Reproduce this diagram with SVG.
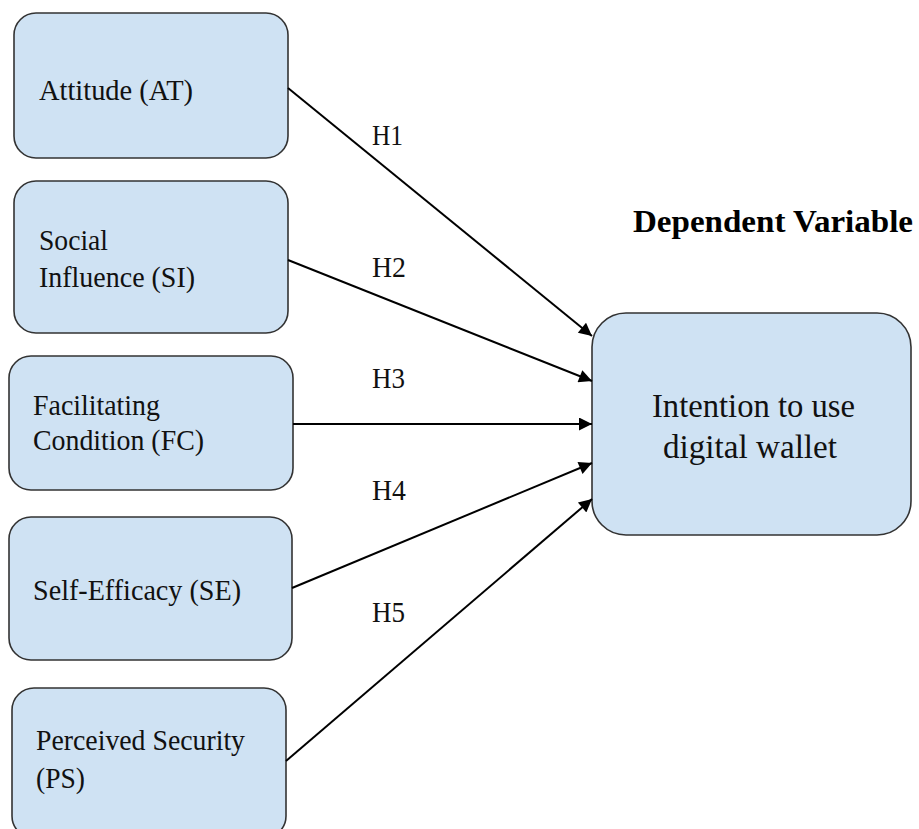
<svg xmlns="http://www.w3.org/2000/svg" width="919" height="829" viewBox="0 0 919 829">
  <style>
    .box { fill: #cfe2f3; stroke: #333333; stroke-width: 1.6; }
    .lbl { font-family: "Liberation Serif", "Times New Roman", serif; font-size: 30px; fill: #111111; }
    .big { font-family: "Liberation Serif", "Times New Roman", serif; font-size: 34px; fill: #111111; }
    .head { font-family: "Liberation Serif", "Times New Roman", serif; font-size: 31px; font-weight: bold; fill: #000000; }
    .hyp { font-family: "Liberation Serif", "Times New Roman", serif; font-size: 30px; fill: #111111; }
    .edge { stroke: #000000; stroke-width: 2; fill: none; marker-end: url(#arrow); }
  </style>
  <defs>
    <marker id="arrow" viewBox="0 0 10 10" refX="10" refY="5" markerWidth="8" markerHeight="6.5" markerUnits="strokeWidth" orient="auto">
      <path d="M0,0 L10,5 L0,10 z" fill="#000000"/>
    </marker>
  </defs>

  <rect width="919" height="829" fill="#ffffff"/>

  <g id="node-at">
    <rect class="box" x="14" y="13" width="274" height="145" rx="22"/>
    <text class="lbl" x="39" y="100" textLength="154" lengthAdjust="spacingAndGlyphs">Attitude (AT)</text>
  </g>
  <g id="node-si">
    <rect class="box" x="14" y="181" width="274" height="152" rx="22"/>
    <text class="lbl" x="39" y="250" textLength="69" lengthAdjust="spacingAndGlyphs">Social</text>
    <text class="lbl" x="39" y="287" textLength="156" lengthAdjust="spacingAndGlyphs">Influence (SI)</text>
  </g>
  <g id="node-fc">
    <rect class="box" x="9" y="356" width="284" height="134" rx="22"/>
    <text class="lbl" x="33" y="415" textLength="127" lengthAdjust="spacingAndGlyphs">Facilitating</text>
    <text class="lbl" x="33" y="450" textLength="171" lengthAdjust="spacingAndGlyphs">Condition (FC)</text>
  </g>
  <g id="node-se">
    <rect class="box" x="9" y="517" width="283" height="143" rx="22"/>
    <text class="lbl" x="33" y="600" textLength="208" lengthAdjust="spacingAndGlyphs">Self-Efficacy (SE)</text>
  </g>
  <g id="node-ps">
    <rect class="box" x="12" y="688" width="274" height="150" rx="22"/>
    <text class="lbl" x="36" y="750" textLength="209" lengthAdjust="spacingAndGlyphs">Perceived Security</text>
    <text class="lbl" x="36" y="788" textLength="49" lengthAdjust="spacingAndGlyphs">(PS)</text>
  </g>
  <g id="node-iu">
    <rect class="box" x="592" y="313" width="319" height="222" rx="34"/>
    <text class="big" x="652" y="417" textLength="203" lengthAdjust="spacingAndGlyphs">Intention to use</text>
    <text class="big" x="663" y="458" textLength="174" lengthAdjust="spacingAndGlyphs">digital wallet</text>
  </g>

  <text class="head" x="633" y="232" textLength="280" lengthAdjust="spacingAndGlyphs">Dependent Variable</text>

  <g id="connectors">
    <line class="edge" x1="288" y1="88" x2="592" y2="336"/>
    <line class="edge" x1="288" y1="260" x2="592" y2="381"/>
    <line class="edge" x1="293" y1="424" x2="592" y2="424"/>
    <line class="edge" x1="292" y1="588" x2="592" y2="463"/>
    <line class="edge" x1="286" y1="761" x2="592" y2="499"/>
    <text class="hyp" x="372" y="145" textLength="31" lengthAdjust="spacingAndGlyphs">H1</text>
    <text class="hyp" x="372" y="277" textLength="34" lengthAdjust="spacingAndGlyphs">H2</text>
    <text class="hyp" x="372" y="388" textLength="33" lengthAdjust="spacingAndGlyphs">H3</text>
    <text class="hyp" x="372" y="500" textLength="34" lengthAdjust="spacingAndGlyphs">H4</text>
    <text class="hyp" x="372" y="622" textLength="33" lengthAdjust="spacingAndGlyphs">H5</text>
  </g>
</svg>
